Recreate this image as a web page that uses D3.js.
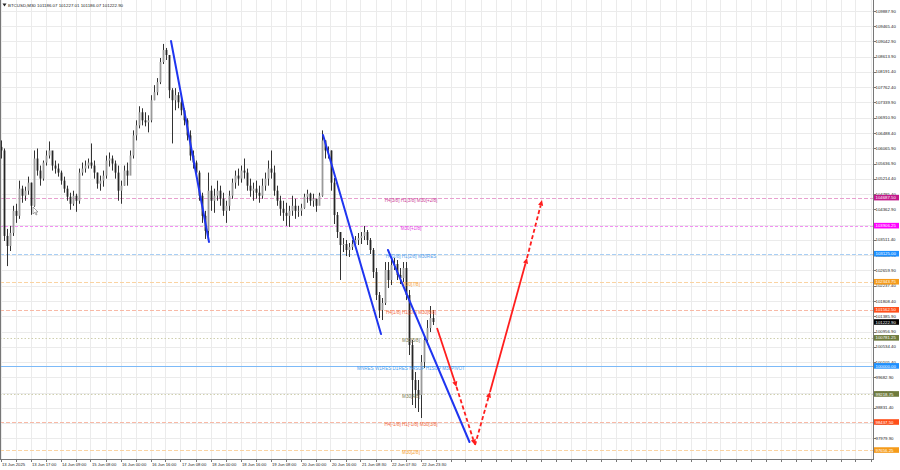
<!DOCTYPE html>
<html><head><meta charset="utf-8">
<script src="https://cdn.jsdelivr.net/npm/d3@7"></script>
<style>html,body{margin:0;padding:0;background:#fff;}svg{display:block;font-family:"Liberation Sans",Arial,sans-serif;}</style>
</head><body><svg id="c" width="900" height="470"></svg>
<script>
// ---------------- DATA ----------------
const symbolTitle = "BTCUSD,M30 101186.07 101227.01 101186.07 101222.90";
const firstOpen = 106100;
const highs = [106280,106056,103816,103900,104460,104516,105160,105020,104992,105272,
105104,106000,106056,105580,105720,106000,106252,105944,105720,105636,
105440,105272,105020,104824,104880,104796,105496,105664,105720,105776,
106196,105720,105384,105300,105440,105860,105944,105860,105720,105580,
105160,105580,105664,106000,106560,106840,107232,107176,107064,106980,
107540,107820,108016,108576,108968,108856,108660,107736,107736,107624,
107456,107176,106896,106560,106000,105720,105440,104824,104320,105384,
105020,104936,105160,105020,104824,104600,104880,105216,105440,105496,
105580,105776,105496,105216,105104,105160,105020,105216,105384,105720,
106000,105580,105020,104740,104600,104544,104460,104740,104656,104460,
104516,104796,104908,104824,104796,104656,104824,106560,106280,106112,
106000,105233,104286,103729,103562,103506,103423,103506,103617,103701,
103729,103896,103785,103562,103283,102726,102058,101891,102893,102893,
102949,103005,102949,102726,102893,102893,102114,100721,99830,99607,
100303,100860,101278,101668,101557];
const lows = [105776,103480,102780,103200,103620,103984,104096,104544,104600,104768,
104208,104432,105300,105020,105160,105580,105776,105440,105356,105272,
105048,104824,104600,104348,104460,104292,104516,105300,105384,105496,
105496,105216,104936,104880,104992,105216,105552,105440,105216,104600,
104516,105020,105020,105580,105776,106280,106616,106700,106672,106504,
106784,107400,107540,107848,108408,108520,107456,106196,107120,107176,
106980,106700,106280,105720,105496,105216,104600,103984,103536,103620,
104320,104264,104600,104460,104180,103984,104320,104656,104936,105020,
105104,105216,104880,104712,104600,104656,104544,104656,104880,105020,
105216,104740,104460,104180,104040,103900,103872,104180,104096,104152,
104180,104376,104544,104460,104432,104292,104544,104712,105776,105776,
104880,103952,103562,102392,103172,103060,103033,103228,103283,103367,
103395,103506,103367,103116,102448,101835,101334,101278,101696,102169,
102253,102671,102392,102281,102336,101835,100303,98911,98827,98716,
98549,99941,100582,100944,101139];
const closes = [106000,103620,103340,103704,104320,104180,104936,104740,104880,105104,
104460,105776,105440,105216,105664,105860,106000,105580,105496,105384,
105160,104936,104712,104516,104740,104600,105384,105496,105580,105664,
105580,105384,105076,105160,105300,105720,105776,105636,105384,104880,
105020,105440,105300,105860,106420,106700,107064,106840,106784,106840,
107400,107624,107904,108464,108800,108660,107680,107400,107540,107344,
107120,106840,106420,105860,105664,105384,104740,104180,103760,104880,
104600,104740,104880,104656,104320,104460,104740,105104,105300,105216,
105440,105384,105020,104880,104936,104824,104740,105020,105216,105496,
105384,104880,104600,104376,104264,104180,104320,104460,104320,104320,
104404,104712,104796,104600,104656,104460,104740,106280,106000,106000,
105104,104202,103729,103367,103395,103228,103311,103395,103506,103562,
103617,103729,103506,103228,102615,101974,101557,101752,102671,102392,
102810,102838,102531,102448,102726,101974,100582,99607,99329,99189,
100108,100721,101055,101334,101222.90];
const lastPrice = 101222.90;

const timeLabels = ["13 Jun 2025","13 Jun 17:00","14 Jun 09:00","15 Jun 08:00","16 Jun 00:00",
"16 Jun 16:00","17 Jun 08:00","18 Jun 00:00","18 Jun 16:00","19 Jun 08:00","20 Jun 00:00",
"20 Jun 16:00","21 Jun 08:30","22 Jun 07:30","22 Jun 23:30"];
const priceTicks = [109887.90,109465.40,109042.90,108613.90,108191.40,107762.40,107339.90,
106910.90,106488.40,106065.90,105636.90,105214.40,104785.40,104362.90,103933.90,103511.40,
103088.90,102659.90,102237.40,101808.40,101385.90,100956.90,100534.40,100105.40,99682.90,
99253.90,98831.40,98402.40,97979.90];

const levelPrices = [104687.50,103906.25,103125.00,102343.75,101562.50,100781.25,100000.00,99218.75,98437.50,97656.25];
const levelNames = ["H4[3/8] H1[3/8] M30[+2/8]","M30[+1/8]","H4[2/8] H1[2/8] M30RES","M30[7/8]",
"H4[1/8] H1[1/8] M30[6/8]","M30[5/8]","MNRES W1RES D1RES H4SUP H1SUP M30PIVOT","M30[4/8]",
"H4[-1/8] H1[-1/8] M30[3/8]","M30[2/8]"];
const levelKinds = ["p2","p1","res","o","r","g","piv","g","r","o"];

// trend lines
const trendStartBars = [56.5,107.17,128.83];
const trendStartPrices = [109048,106430,103228];
const trendEndBars = [69.17,126.5,156];
const trendEndPrices = [103450,100888,97880];

// forecast path (red arrows)
const forecastBars = [145.17,151.67,157.83,162.83,175.17,180.17];
const forecastPrices = [101055,99412,97797,99273,103005,104620];
const forecastDashed = [false,true,true,false,true];

// ---------------- STYLE ----------------
const levelStyle = {
  p2: {line:"#e8a0cf", dash:"4,2", text:"#cc3f99", box:"#c2188a"},
  p1: {line:"#f291f2", dash:"3,2", text:"#e33de3", box:"#ff00ff"},
  res:{line:"#a9cff5", dash:"4,2", text:"#55a2ee", box:"#1e90ff"},
  o:  {line:"#fad3a2", dash:"4,2", text:"#f5a031", box:"#f59b1a"},
  r:  {line:"#f8b9a6", dash:"4,2", text:"#f26a3f", box:"#ff4f1a"},
  g:  {line:"#cfcfae", dash:"1.5,2", text:"#7b7b55", box:"#6e7a3c"},
  piv:{line:"#7dbaf8", dash:null, text:"#4aa0f0", box:"#1e90ff"}
};
const PLOT_R = 873, PLOT_B = 459;
const BARS_PER_LABEL = 10, BARS_PER_GRID = 5;
const levelLabelBar = 136.5;

const svg = d3.select("#c");
const x = d3.scaleLinear().domain([0, 290]).range([1.5, 871.5]);
const y = d3.scaleLinear().domain([100000, 109887.9]).range([365.9, 10.9]);

svg.append("rect").attr("width",900).attr("height",470).attr("fill","#fff");

// grid
const g = svg.append("g");
const nGrid = Math.floor((PLOT_R - 1.5) / (3*BARS_PER_GRID));
g.selectAll("line.vg").data(d3.range(0, nGrid+1)).join("line")
  .attr("x1", d => Math.round(x(d*BARS_PER_GRID)) - 0.5).attr("x2", d => Math.round(x(d*BARS_PER_GRID)) - 0.5)
  .attr("y1", 0).attr("y2", PLOT_B).attr("stroke", "#ebebeb").attr("stroke-width", 1);
g.selectAll("line.hg").data(priceTicks).join("line")
  .attr("x1", 0).attr("x2", PLOT_R).attr("y1", d => Math.round(y(d)) + 0.5).attr("y2", d => Math.round(y(d)) + 0.5)
  .attr("stroke", "#ebebeb").attr("stroke-width", 1);

// level lines
const lv = svg.append("g");
levelPrices.forEach((p, i) => {
  const st = levelStyle[levelKinds[i]];
  const yy = Math.round(y(p)) + 0.5;
  lv.append("line").attr("x1", 0).attr("x2", PLOT_R).attr("y1", yy).attr("y2", yy)
    .attr("stroke", st.line).attr("stroke-width", 1).attr("stroke-dasharray", st.dash);
});

// candles
const bars = closes.map((c, i) => ({i, o: i === 0 ? firstOpen : closes[i-1], h: highs[i], l: lows[i], c}));
const cg = svg.append("g");
cg.selectAll("line").data(bars).join("line")
  .attr("x1", d => x(d.i)).attr("x2", d => x(d.i))
  .attr("y1", d => y(d.h)).attr("y2", d => y(d.l))
  .attr("stroke", "#333").attr("stroke-width", 1);
cg.selectAll("rect").data(bars).join("rect")
  .attr("x", d => x(d.i) - 0.9).attr("width", 1.8)
  .attr("y", d => y(Math.max(d.o, d.c)))
  .attr("height", d => Math.max(0.8, Math.abs(y(d.o) - y(d.c))))
  .attr("fill", d => d.c >= d.o ? "#9a9a9a" : "#262626");

// level labels (text)
levelPrices.forEach((p, i) => {
  const st = levelStyle[levelKinds[i]];
  svg.append("text").attr("x", x(levelLabelBar)).attr("y", y(p) + 4.3)
    .attr("text-anchor", "middle").attr("font-size", 4.6).attr("fill", st.text).text(levelNames[i]);
});

// trend lines
const tg = svg.append("g");
trendStartBars.forEach((b, i) => {
  tg.append("line").attr("x1", x(b)).attr("y1", y(trendStartPrices[i]))
    .attr("x2", x(trendEndBars[i])).attr("y2", y(trendEndPrices[i]))
    .attr("stroke", "#1f35f0").attr("stroke-width", 2).attr("stroke-linecap", "round");
});

// forecast arrows
const fg = svg.append("g");
for (let i = 0; i < forecastBars.length - 1; i++) {
  const x1 = x(forecastBars[i]), y1 = y(forecastPrices[i]);
  const x2 = x(forecastBars[i+1]), y2 = y(forecastPrices[i+1]);
  const ang = Math.atan2(y2 - y1, x2 - x1);
  const L = 5.5, Wd = 2.6;
  const bx = x2 - L*Math.cos(ang), by = y2 - L*Math.sin(ang);
  fg.append("line").attr("x1", x1).attr("y1", y1).attr("x2", bx).attr("y2", by)
    .attr("stroke", "#ff1e1e").attr("stroke-width", 1.8)
    .attr("stroke-dasharray", forecastDashed[i] ? "4,2.5" : null);
  const px = -Math.sin(ang), py = Math.cos(ang);
  fg.append("path").attr("d", `M${x2},${y2}L${bx+px*Wd},${by+py*Wd}L${bx-px*Wd},${by-py*Wd}Z`)
    .attr("fill", "#ff1e1e");
}

// frame / axes
svg.append("line").attr("x1", 0.5).attr("x2", 0.5).attr("y1", 0).attr("y2", PLOT_B).attr("stroke", "#777");
svg.append("line").attr("x1", PLOT_R + 0.5).attr("x2", PLOT_R + 0.5).attr("y1", 0).attr("y2", PLOT_B + 1).attr("stroke", "#777");
svg.append("line").attr("x1", 0).attr("x2", PLOT_R + 1).attr("y1", PLOT_B + 0.5).attr("y2", PLOT_B + 0.5).attr("stroke", "#777");

// right axis ticks + labels
const ra = svg.append("g");
priceTicks.forEach(p => {
  const yy = Math.round(y(p)) + 0.5;
  ra.append("line").attr("x1", PLOT_R).attr("x2", PLOT_R + 3).attr("y1", yy).attr("y2", yy).attr("stroke", "#777");
  ra.append("text").attr("x", PLOT_R + 2.5).attr("y", y(p) + 1.6).attr("font-size", 4.3).attr("fill", "#222").text(d3.format(".2f")(p));
});
const boxes = levelPrices.map((p, i) => ({p, col: levelStyle[levelKinds[i]].box})).concat([{p: lastPrice, col: "#000"}]);
boxes.forEach(b => {
  const yy = y(b.p);
  ra.append("rect").attr("x", PLOT_R + 1).attr("y", yy - 2.8).attr("width", 25).attr("height", 5.6).attr("fill", b.col);
  ra.append("text").attr("x", PLOT_R + 2.5).attr("y", yy + 1.6).attr("font-size", 4.3).attr("fill", "#fff").text(d3.format(".2f")(b.p));
});

// bottom axis
const ba = svg.append("g");
d3.range(0, nGrid+1).forEach(k => {
  const xx = Math.round(x(k*BARS_PER_GRID)) - 0.5;
  ba.append("line").attr("x1", xx).attr("x2", xx).attr("y1", PLOT_B).attr("y2", PLOT_B + 3).attr("stroke", "#777");
});
timeLabels.forEach((t, k) => {
  ba.append("text").attr("x", x(k*BARS_PER_LABEL) + 0.5).attr("y", PLOT_B + 6.5)
    .attr("font-size", 4.2).attr("fill", "#222").text(t);
});

// title
svg.append("path").attr("d", "M2.5,3.5L6.5,3.5L4.5,6.5Z").attr("fill", "#222");
svg.append("text").attr("x", 8).attr("y", 6.8).attr("font-size", 4.4).attr("fill", "#222").text(symbolTitle);

// mouse cursor artifact
svg.append("path").attr("d", "M33,207L33,214L34.8,212.4L36,215L37,214.5L35.8,212L38,212Z")
  .attr("fill", "#fff").attr("stroke", "#555").attr("stroke-width", 0.5);
</script></body></html>
